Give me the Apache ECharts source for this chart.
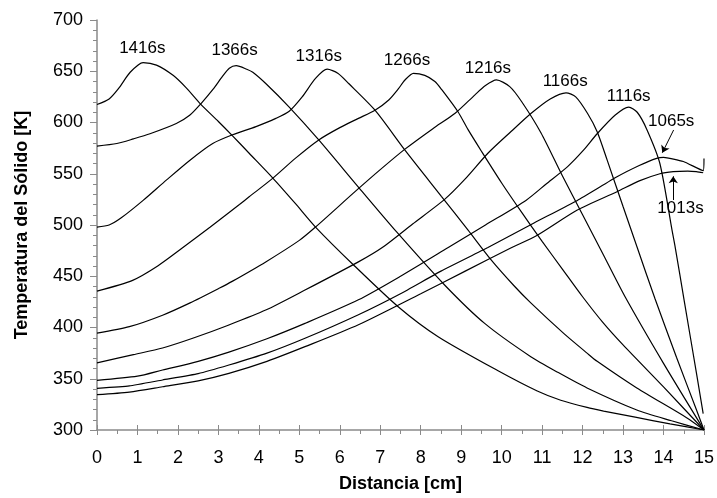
<!DOCTYPE html>
<html>
<head>
<meta charset="utf-8">
<script src="https://cdn.jsdelivr.net/npm/echarts@6/dist/echarts.min.js"></script>
<style>
    html, body { margin: 0; padding: 0; background: #fff; }
    #chart { width: 717px; height: 498px; }
</style>
</head>
<body>
<div id="chart"></div>
<script>
// perfiles de temperatura del sólido: [distancia cm, temperatura K]
const t1416 = [[0, 617.5], [0.3, 623], [0.53, 633], [0.82, 649], [1.14, 658.5], [1.47, 656], [1.88, 646], [2.2, 634], [2.56, 618], [3.0, 601], [3.35, 587], [3.76, 570], [4.34, 546], [4.9, 521], [5.4, 498], [6.34, 461], [7.45, 420], [8.43, 391], [9.9, 358], [10.88, 338], [11.46, 329], [12.11, 322], [12.52, 318.5], [13.3, 312.5], [14.16, 306], [15, 300]];
const t1366 = [[0, 577], [0.49, 579.5], [0.9, 584], [1.31, 589], [1.96, 599], [2.29, 607], [2.56, 618], [2.86, 632], [3.1, 645], [3.27, 653], [3.44, 655.5], [3.7, 652], [3.85, 649], [4.17, 638], [4.75, 615], [5.48, 583], [6.46, 537], [7.41, 493], [8.59, 441.5], [9.58, 404], [10.72, 371.5], [11.4, 356], [12.11, 341], [13.34, 319.5], [14.2, 309], [15, 300]];
const t1316 = [[0, 498], [0.3, 500], [0.6, 507], [1.14, 524], [1.72, 544], [2.29, 563], [2.86, 579.5], [3.35, 588], [3.93, 596], [4.42, 604], [4.75, 611], [5.07, 625], [5.4, 643], [5.69, 652], [5.95, 648], [6.22, 638], [6.87, 612], [7.61, 573], [8.51, 528], [9.17, 495], [9.74, 466], [10.3, 441], [10.72, 424], [11.54, 394], [12.11, 375], [12.36, 367], [13.34, 341], [14.57, 312], [15, 300]];
const t1266 = [[0, 435.5], [0.88, 446], [1.5, 460], [2.09, 477], [2.8, 498], [3.52, 520], [3.76, 527.5], [4.34, 545.5], [4.9, 565], [5.48, 583], [6.0, 595], [6.46, 604], [6.87, 612], [7.21, 622], [7.45, 633], [7.61, 641.5], [7.82, 648], [8.1, 646], [8.35, 640], [8.52, 632], [8.92, 610.5], [9.17, 593], [9.5, 572], [10.0, 541], [10.5, 512], [11.0, 484], [11.5, 457], [12.0, 430], [12.5, 405], [13.0, 383], [14.0, 342], [15, 300]];
const t1216 = [[0, 394.5], [0.8, 400.8], [1.62, 412], [2.3, 424], [3.03, 438.5], [3.34, 445], [4.17, 464], [5.0, 485], [5.4, 498], [6.39, 533], [7.0, 554], [7.61, 574], [8.3, 594], [8.85, 609], [9.34, 627], [9.6, 636], [9.87, 641.5], [10.2, 635], [10.5, 620], [10.97, 590], [11.5, 548], [12.0, 510], [12.5, 472], [13.05, 430], [14.0, 365], [15, 300]];
const t1166 = [[0, 365.5], [0.9, 373.5], [1.62, 380], [2.4, 390], [3.26, 402.5], [4.17, 417], [5.14, 436.5], [6.46, 464], [7.05, 478], [7.8, 501], [8.59, 525], [9.1, 545], [9.66, 570], [10.2, 590], [10.73, 609], [11.2, 623], [11.59, 629], [11.83, 625], [12.12, 609], [12.36, 591], [12.61, 563], [13.0, 518], [13.35, 478], [13.79, 428], [14.32, 371], [14.82, 319], [15, 300]];
const t1116 = [[0, 348.5], [1.0, 352.5], [1.62, 358.5], [2.5, 367], [3.26, 376], [4.2, 389], [5.14, 404], [6.46, 427], [7.5, 450], [8.68, 478], [9.6, 500], [10.6, 524], [11.1, 540], [11.63, 557], [12.0, 572], [12.36, 589], [12.8, 607], [13.14, 615], [13.35, 610], [13.59, 593], [13.91, 560], [14.21, 495], [14.29, 478], [14.52, 424], [14.82, 354], [14.98, 316]];
const t1065 = [[0, 340.7], [0.8, 343], [1.62, 348.8], [2.5, 355], [3.26, 363.4], [4.2, 375], [5.14, 389.5], [6.46, 412.5], [7.5, 433], [8.5, 455], [9.66, 478], [10.8, 502], [11.87, 524], [12.85, 547], [13.4, 558], [13.83, 565], [14.0, 566], [14.49, 562], [14.98, 553], [15, 565]];
const t1013 = [[0, 334.5], [0.8, 337], [1.62, 342.2], [2.5, 348], [3.26, 355.3], [4.2, 367], [5.14, 381.3], [6.46, 402.7], [8.0, 433], [9.1, 455], [10.2, 477], [10.88, 490], [11.87, 514.6], [12.85, 532.5], [13.4, 543], [13.91, 550], [14.24, 552], [14.6, 552.5], [14.81, 552], [14.98, 551]];

const curves = [t1416, t1366, t1316, t1266, t1216, t1166, t1116, t1065, t1013];

// etiquetas de tiempo y su posición (en coordenadas de datos)
const tiempos = ['1416s', '1366s', '1316s', '1266s', '1216s', '1166s', '1116s', '1065s', '1013s'];
const etiquetaX = [1.12, 3.40, 5.48, 7.66, 9.66, 11.57, 13.14, 14.19, 14.42];
const etiquetaY = [672.7, 670.7, 664.2, 661, 652.9, 639.8, 625.2, 600.8, 516.6];

// flechas [x0, y0, x1, y1]
const flechas = [[14.25, 592.7, 13.97, 570.5], [14.24, 524.4, 14.24, 547.5]];

const font = 'Liberation Sans, Arial, sans-serif';
const gris = '#8a8a8a';

let chart = echarts.init(document.getElementById('chart'));

let series = curves.map(function (d, i) {
    // el último tramo de 1065s es el salto vertical en x = 15
    let ultimo = i === 7;
    return {
        name: tiempos[i],
        type: 'line',
        data: d,
        showSymbol: false,
        smooth: ultimo ? 0.15 : 0.25,
        lineStyle: { color: '#000', width: 1.2 },
        silent: true,
        z: 3
    };
});

series.push({
    type: 'scatter',
    data: tiempos.map(function (t, i) {
        return { name: t, value: [etiquetaX[i], etiquetaY[i]] };
    }),
    symbolSize: 0,
    itemStyle: { opacity: 1 },
    label: {
        show: true,
        position: 'inside',
        formatter: '{b}',
        color: '#000',
        opacity: 1,
        textBorderWidth: 0,
        fontSize: 17,
        fontFamily: font
    },
    silent: true,
    z: 5
});

series.push({
    type: 'lines',
    coordinateSystem: 'cartesian2d',
    data: flechas.map(function (f) {
        return { coords: [[f[0], f[1]], [f[2], f[3]]] };
    }),
    symbol: ['none', 'arrow'],
    symbolSize: 7,
    lineStyle: { color: '#000', width: 1, opacity: 1 },
    silent: true,
    z: 4
});

let option = {
    animation: false,
    backgroundColor: '#fff',
    grid: { left: 97, right: 9, top: 20, bottom: 68 },
    xAxis: [
        {
            type: 'value',
            position: 'bottom',
            min: 0,
            max: 15,
            interval: 1,
            name: 'Distancia [cm]',
            nameLocation: 'middle',
            nameGap: 45,
            nameTextStyle: { fontSize: 18, fontWeight: 'bold', color: '#000', fontFamily: font },
            axisLine: { show: true, lineStyle: { color: gris, width: 1.5 } },
            axisTick: { show: true, inside: false, length: 5, lineStyle: { color: gris } },
            minorTick: { show: true, splitNumber: 2, length: 4, lineStyle: { color: gris } },
            splitLine: { show: false },
            axisLabel: { fontSize: 18, color: '#000', fontFamily: font, margin: 19 }
        },
        {
            // marcas hacia dentro de las divisiones principales
            type: 'value',
            position: 'bottom',
            min: 0,
            max: 15,
            interval: 1,
            axisLine: { show: false },
            axisTick: { show: true, inside: true, length: 5, lineStyle: { color: gris } },
            axisLabel: { show: false },
            splitLine: { show: false }
        }
    ],
    yAxis: {
        type: 'value',
        min: 300,
        max: 700,
        interval: 50,
        name: 'Temperatura del Sólido [K]',
        nameLocation: 'middle',
        nameGap: 66,
        nameTextStyle: { fontSize: 18, fontWeight: 'bold', color: '#000', fontFamily: font },
        axisLine: { show: true, lineStyle: { color: gris, width: 1.5 } },
        axisTick: { show: true, length: 7, lineStyle: { color: gris } },
        minorTick: { show: true, splitNumber: 5, length: 4, lineStyle: { color: gris } },
        splitLine: { show: false },
        axisLabel: { fontSize: 18, color: '#000', fontFamily: font, margin: 14 }
    },
    series: series
};

chart.setOption(option);
</script>
</body>
</html>
